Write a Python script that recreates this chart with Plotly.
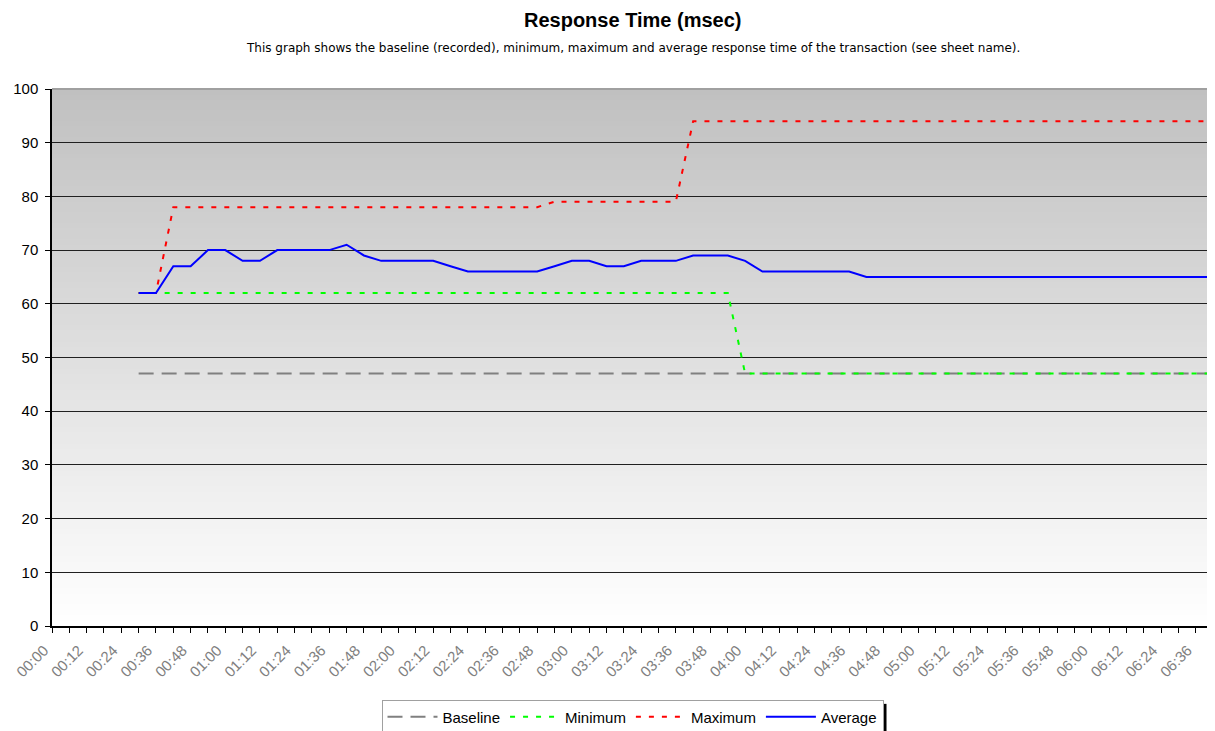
import plotly.graph_objects as go

# sample times (seconds from start of test)
time_sec = [30, 36, 42, 48, 54, 60, 66, 72, 78, 84, 90, 96, 102, 108, 114, 120,
            126, 132, 138, 144, 150, 156, 162, 168, 174, 180, 186, 192, 198, 204,
            210, 216, 222, 228, 234, 240, 246, 252, 258, 264, 270, 276, 282, 288,
            294, 300, 306, 312, 318, 324, 330, 336, 342, 348, 354, 360, 366, 372,
            378, 384, 390, 396, 402]

baseline = [47] * 63

minimum = [62, 62, 62, 62, 62, 62, 62, 62, 62, 62, 62, 62, 62, 62, 62, 62,
           62, 62, 62, 62, 62, 62, 62, 62, 62, 62, 62, 62, 62, 62,
           62, 62, 62, 62, 62, 47, 47, 47, 47, 47, 47, 47, 47, 47,
           47, 47, 47, 47, 47, 47, 47, 47, 47, 47, 47, 47, 47, 47,
           47, 47, 47, 47, 47]

maximum = [62, 62, 78, 78, 78, 78, 78, 78, 78, 78, 78, 78, 78, 78, 78, 78,
           78, 78, 78, 78, 78, 78, 78, 78, 79, 79, 79, 79, 79, 79,
           79, 79, 94, 94, 94, 94, 94, 94, 94, 94, 94, 94, 94, 94,
           94, 94, 94, 94, 94, 94, 94, 94, 94, 94, 94, 94, 94, 94,
           94, 94, 94, 94, 94]

average = [62, 62, 67, 67, 70, 70, 68, 68, 70, 70, 70, 70, 71, 69, 68, 68,
           68, 68, 67, 66, 66, 66, 66, 66, 67, 68, 68, 67, 67, 68,
           68, 68, 69, 69, 69, 68, 66, 66, 66, 66, 66, 66, 65, 65,
           65, 65, 65, 65, 65, 65, 65, 65, 65, 65, 65, 65, 65, 65,
           65, 65, 65, 65, 65]

# x-axis labels every 12 s
tick_sec = list(range(0, 397, 12))
tick_text = ["%02d:%02d" % (s // 60, s % 60) for s in tick_sec]

FONT = "Liberation Sans, Arial, sans-serif"

fig = go.Figure()

fig.add_trace(go.Scatter(x=time_sec, y=baseline, name="Baseline", mode="lines",
                         line=dict(color="#808080", width=2, dash="15px,8px")))
fig.add_trace(go.Scatter(x=time_sec, y=minimum, name="Minimum", mode="lines",
                         line=dict(color="#00ff00", width=2, dash="5px,8px")))
fig.add_trace(go.Scatter(x=time_sec, y=maximum, name="Maximum", mode="lines",
                         line=dict(color="#ff0000", width=2, dash="5px,8px")))
fig.add_trace(go.Scatter(x=time_sec, y=average, name="Average", mode="lines",
                         line=dict(color="#0000ff", width=2)))

# vertical grey -> white gradient behind the plot (overlapping rects, no seams)
shapes = []
n = 100
for i in range(n, 0, -1):
    frac = (i - 0.5) / n  # 0 bottom, 1 top
    c = int(round(255 - 63 * frac))
    shapes.append(dict(type="rect", xref="paper", yref="paper",
                       x0=0, x1=1, y0=0, y1=i / n,
                       fillcolor=f"rgb({c},{c},{c})", line=dict(width=0),
                       layer="below"))
# top/right frame
shapes.append(dict(type="line", xref="paper", yref="paper", x0=0, x1=1, y0=1, y1=1,
                   line=dict(color="#a0a0a0", width=2)))
shapes.append(dict(type="line", xref="paper", yref="paper", x0=1, x1=1, y0=0, y1=1,
                   line=dict(color="#a0a0a0", width=2)))
# legend drop shadow on the right edge
shapes.append(dict(type="line", xref="paper", yref="paper", x0=0.7175, x1=0.7175,
                   y0=-0.145, y1=-0.2, line=dict(color="black", width=3)))

# page body has an 8px margin, so margins are offset by -8 / +8
fig.update_layout(
    width=1215, height=731,
    margin=dict(l=44, r=10, t=81, b=113),
    paper_bgcolor="white", plot_bgcolor="white",
    font=dict(family=FONT, size=14, color="black"),
    shapes=shapes,
    showlegend=True,
    legend=dict(orientation="h", x=0.5, xanchor="center",
                yref="container", y=0.030, yanchor="middle",
                bgcolor="white", bordercolor="#a0a0a0", borderwidth=1,
                font=dict(size=15, family=FONT), itemwidth=50,
                tracegroupgap=0),
    annotations=[
        dict(text="<b>Response Time (msec)</b>",
             xref="paper", yref="paper", x=0.5, y=1, yshift=69,
             xanchor="center", yanchor="middle", showarrow=False,
             font=dict(size=20, family=FONT)),
        dict(text="This graph shows the baseline (recorded), minimum, maximum and average "
                  "response time of the transaction (see sheet name).",
             xref="paper", yref="paper", x=0.5, y=1, yshift=41,
             xanchor="center", yanchor="middle", showarrow=False,
             font=dict(size=12, family="DejaVu Sans, sans-serif")),
    ],
)

fig.update_xaxes(
    range=[0, 402], tickmode="array", tickvals=tick_sec, ticktext=tick_text,
    tickangle=-45, tickfont=dict(size=15, color="#808080"),
    ticks="outside", ticklen=5, tickcolor="black",
    ticklabelstandoff=3, ticklabelshift=-8,
    minor=dict(dtick=6, tick0=0, ticks="outside", ticklen=5, tickcolor="black", showgrid=False),
    showline=True, linecolor="black", linewidth=1.5,
    showgrid=False, zeroline=False, automargin=False,
)
fig.update_yaxes(
    range=[0, 100], dtick=10, tick0=0,
    ticks="outside", ticklen=5, tickcolor="black", ticklabelstandoff=4,
    showline=True, linecolor="black", linewidth=1.5,
    showgrid=True, gridcolor="#202020", gridwidth=1, zeroline=False,
    tickfont=dict(size=15, color="black"), automargin=False,
)

fig.write_html("out.html")
